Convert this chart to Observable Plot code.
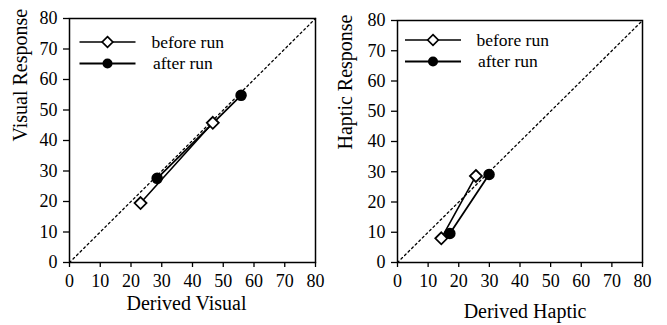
<!DOCTYPE html>
<html><head><meta charset="utf-8">
<script src="https://cdn.jsdelivr.net/npm/d3@7"></script>
<script src="https://cdn.jsdelivr.net/npm/@observablehq/plot@0.6"></script>
<style>
body{margin:0;background:#fff;}
#wrap{position:relative;width:667px;height:325px;overflow:hidden;font-family:"Liberation Serif",serif;}
#wrap > svg, #wrap > figure{position:absolute;top:0;margin:0;}
text{font-family:"Liberation Serif",serif !important;}
</style></head><body><div id="wrap"></div>
<script>
// ---- data ----
const axisDomain = [0, 80];
const tickValues = [0, 10, 20, 30, 40, 50, 60, 70, 80];
const seriesNames = ["before run", "after run"];

const visualBeforeX = [23.1, 46.6];
const visualBeforeY = [19.5, 45.8];
const visualAfterX = [28.5, 55.8];
const visualAfterY = [27.6, 54.8];

const hapticBeforeX = [14.3, 25.6];
const hapticBeforeY = [8.0, 28.6];
const hapticAfterX = [17.1, 29.9];
const hapticAfterY = [9.6, 29.1];

const panelTitles = {
  visual: {x: "Derived Visual", y: "Visual Response"},
  haptic: {x: "Derived Haptic", y: "Haptic Response"}
};

// ---- drawing ----
const FONT = "Liberation Serif";
const wrap = document.getElementById("wrap");

function makePanel(o) {
  const before = o.bx.map((x, i) => ({x, y: o.by[i]}));
  const after = o.ax.map((x, i) => ({x, y: o.ay[i]}));
  const diag = axisDomain.map(v => ({x: v, y: v}));
  const p = Plot.plot({
    width: o.width, height: 325,
    marginLeft: o.ml, marginRight: o.mr, marginTop: o.mt, marginBottom: o.mb,
    x: {domain: axisDomain, ticks: tickValues},
    y: {domain: axisDomain, ticks: tickValues},
    style: {fontFamily: FONT, fontSize: "18px", color: "#000", background: "transparent", overflow: "visible"},
    marks: [
      Plot.line(diag, {x: "x", y: "y", stroke: "#000", strokeWidth: 1.3, strokeDasharray: "2,3"}),
      Plot.line(before, {x: "x", y: "y", stroke: "#000", strokeWidth: 1.6}),
      Plot.line(after, {x: "x", y: "y", stroke: "#000", strokeWidth: 1.8}),
      Plot.dot(after, {x: "x", y: "y", r: 5, fill: "#000", stroke: "#000"}),
      Plot.dot(before, {x: "x", y: "y", r: 5.4, symbol: "diamond2", fill: "#fff", stroke: "#000", strokeWidth: 1.8}),
      Plot.frame({stroke: "#000", strokeWidth: 1.5}),
      Plot.axisX({ticks: tickValues, tickSize: 5, tickPadding: 7, label: null, strokeWidth: 1.3, fontSize: 18, fontFamily: FONT}),
      Plot.axisY({ticks: tickValues, tickSize: 6, tickPadding: 6, label: null, strokeWidth: 1.3, fontSize: 18, fontFamily: FONT}),
      Plot.text([o.xLabel], {text: d => d, frameAnchor: "bottom", dx: o.xdx, dy: o.xdy, fontSize: 20, fontFamily: FONT}),
      Plot.text([o.yLabel], {text: d => d, frameAnchor: "left", rotate: -90, dx: o.ydx, dy: o.ydy, fontSize: 20, fontFamily: FONT})
    ]
  });
  p.style.left = o.left + "px";
  wrap.appendChild(p);
}

makePanel({bx: visualBeforeX, by: visualBeforeY, ax: visualAfterX, ay: visualAfterY,
  xLabel: panelTitles.visual.x, yLabel: panelTitles.visual.y,
  left: 0, width: 333, ml: 69, mr: 18, mt: 18, mb: 63,
  xdx: -6, xdy: 47, ydx: -49, ydy: 1});

makePanel({bx: hapticBeforeX, by: hapticBeforeY, ax: hapticAfterX, ay: hapticAfterY,
  xLabel: panelTitles.haptic.x, yLabel: panelTitles.haptic.y,
  left: 333, width: 334, ml: 64, mr: 25, mt: 20, mb: 63,
  xdx: 5, xdy: 55, ydx: -52, ydy: 8});

// ---- legends (overlay, inside each frame) ----
const legendSvg = d3.select(wrap).append("svg")
  .attr("width", 667).attr("height", 325)
  .style("left", "0px").style("pointer-events", "none");

function legend(x0, y0, textX) {
  const rows = [
    {name: seriesNames[0], sw: 1.4, sym: "diamond"},
    {name: seriesNames[1], sw: 2, sym: "circle"}
  ];
  rows.forEach((r, i) => {
    const y = y0 + i * 21.5;
    const g = legendSvg.append("g");
    g.append("line").attr("x1", x0).attr("x2", x0 + 56).attr("y1", y).attr("y2", y)
      .attr("stroke", "#000").attr("stroke-width", r.sw);
    const cx = x0 + 28;
    if (r.sym === "diamond") {
      g.append("path").attr("d", `M${cx},${y - 5.3}L${cx + 5.3},${y}L${cx},${y + 5.3}L${cx - 5.3},${y}Z`)
        .attr("fill", "#fff").attr("stroke", "#000").attr("stroke-width", 1.7);
    } else {
      g.append("circle").attr("cx", cx).attr("cy", y).attr("r", 5).attr("fill", "#000");
    }
    g.append("text").attr("x", textX + (i ? 1.5 : 0)).attr("y", y).attr("dy", "0.32em")
      .attr("font-family", FONT).attr("font-size", 17.5).text(r.name);
  });
}
legend(79.5, 42, 151.5);
legend(405, 40, 476.5);
</script>
</body></html>
